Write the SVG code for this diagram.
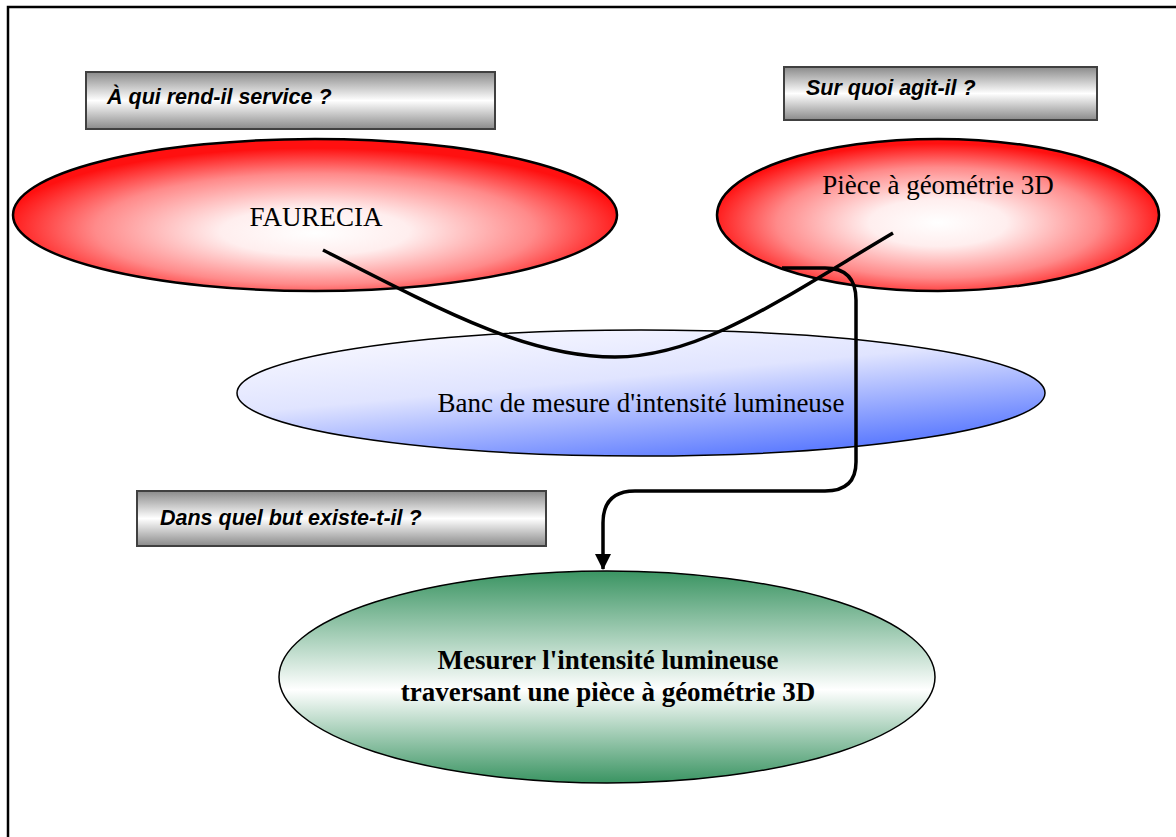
<svg xmlns="http://www.w3.org/2000/svg" width="1176" height="837" viewBox="0 0 1176 837">
<defs>
<radialGradient id="red1" cx="0.5" cy="0.58" r="0.52" fx="0.5" fy="0.62">
<stop offset="0" stop-color="#ffffff"/>
<stop offset="0.3" stop-color="#ffeeee"/>
<stop offset="0.7" stop-color="#ff8a8a"/>
<stop offset="1" stop-color="#ff1010"/>
</radialGradient>
<radialGradient id="red2" cx="0.5" cy="0.55" r="0.52">
<stop offset="0" stop-color="#ffffff"/>
<stop offset="0.3" stop-color="#ffeeee"/>
<stop offset="0.7" stop-color="#ff8a8a"/>
<stop offset="1" stop-color="#ff1010"/>
</radialGradient>
<linearGradient id="blue" x1="0.2" y1="0" x2="0.8" y2="1">
<stop offset="0" stop-color="#f8f8ff"/>
<stop offset="0.4" stop-color="#e0e4ff"/>
<stop offset="1" stop-color="#4a6cff"/>
</linearGradient>
<linearGradient id="green" x1="0" y1="0" x2="0" y2="1">
<stop offset="0" stop-color="#3a9462"/>
<stop offset="0.56" stop-color="#ffffff"/>
<stop offset="1" stop-color="#3a9462"/>
</linearGradient>
<linearGradient id="gray" x1="0" y1="0" x2="0" y2="1">
<stop offset="0" stop-color="#8a8a8a"/>
<stop offset="0.5" stop-color="#ffffff"/>
<stop offset="1" stop-color="#8a8a8a"/>
</linearGradient>
<marker id="arrow" markerWidth="18" markerHeight="16" refX="15" refY="8" orient="auto" markerUnits="userSpaceOnUse">
<path d="M0,0 L16,8 L0,16 Z" fill="#000"/>
</marker>
<style>
.box{fill:url(#gray);stroke:#404040;stroke-width:2}
.q{font-family:"Liberation Sans",Arial,sans-serif;font-weight:bold;font-style:italic;font-size:21.5px;fill:#000}
.t{font-family:"Liberation Serif","Times New Roman",serif;font-size:27px;fill:#000;text-anchor:middle}
.b{font-weight:bold}
.conn{fill:none;stroke:#000;stroke-width:3.5}
</style>
</defs>
<rect x="0" y="0" width="1176" height="837" fill="#fff"/>
<rect x="8" y="7" width="1180" height="840" fill="none" stroke="#000" stroke-width="2.5"/>

<g id="q1"><rect class="box" x="86" y="72" width="409" height="57"/><text class="q" x="107" y="104">À qui rend-il service ?</text></g>
<g id="q2"><rect class="box" x="784" y="67" width="313" height="53"/><text class="q" x="806" y="95">Sur quoi agit-il ?</text></g>
<g id="q3"><rect class="box" x="137" y="491" width="409" height="55"/><text class="q" x="160" y="525">Dans quel but existe-t-il ?</text></g>

<g id="faurecia"><ellipse cx="315" cy="215" rx="302" ry="76" fill="url(#red1)" stroke="#000" stroke-width="2.5"/><text class="t" x="316" y="226">FAURECIA</text></g>
<g id="piece"><ellipse cx="938" cy="215" rx="221" ry="76" fill="url(#red2)" stroke="#000" stroke-width="2.5"/><text class="t" x="938" y="194">Pièce à géométrie 3D</text></g>
<g id="banc"><ellipse cx="641" cy="393" rx="404" ry="63" fill="url(#blue)" stroke="#000" stroke-width="1.5"/><text class="t" x="641" y="412">Banc de mesure d'intensité lumineuse</text></g>
<g id="but"><ellipse cx="607" cy="677" rx="328" ry="106" fill="url(#green)" stroke="#000" stroke-width="1.5"/><text class="t b" x="608" y="669">Mesurer l'intensité lumineuse</text><text class="t b" x="608" y="701">traversant une pièce à géométrie 3D</text></g>

<g id="connectors">
<path class="conn" d="M323,250 C450,315 530,357 615,357 C700,357 780,300 893,233"/>
<path class="conn" marker-end="url(#arrow)" d="M782,268 L825,268 Q856,268 856,300 L856,462 Q856,491 825,491 L635,491 Q603,491 603,523 L603,569"/>
</g>
</svg>
